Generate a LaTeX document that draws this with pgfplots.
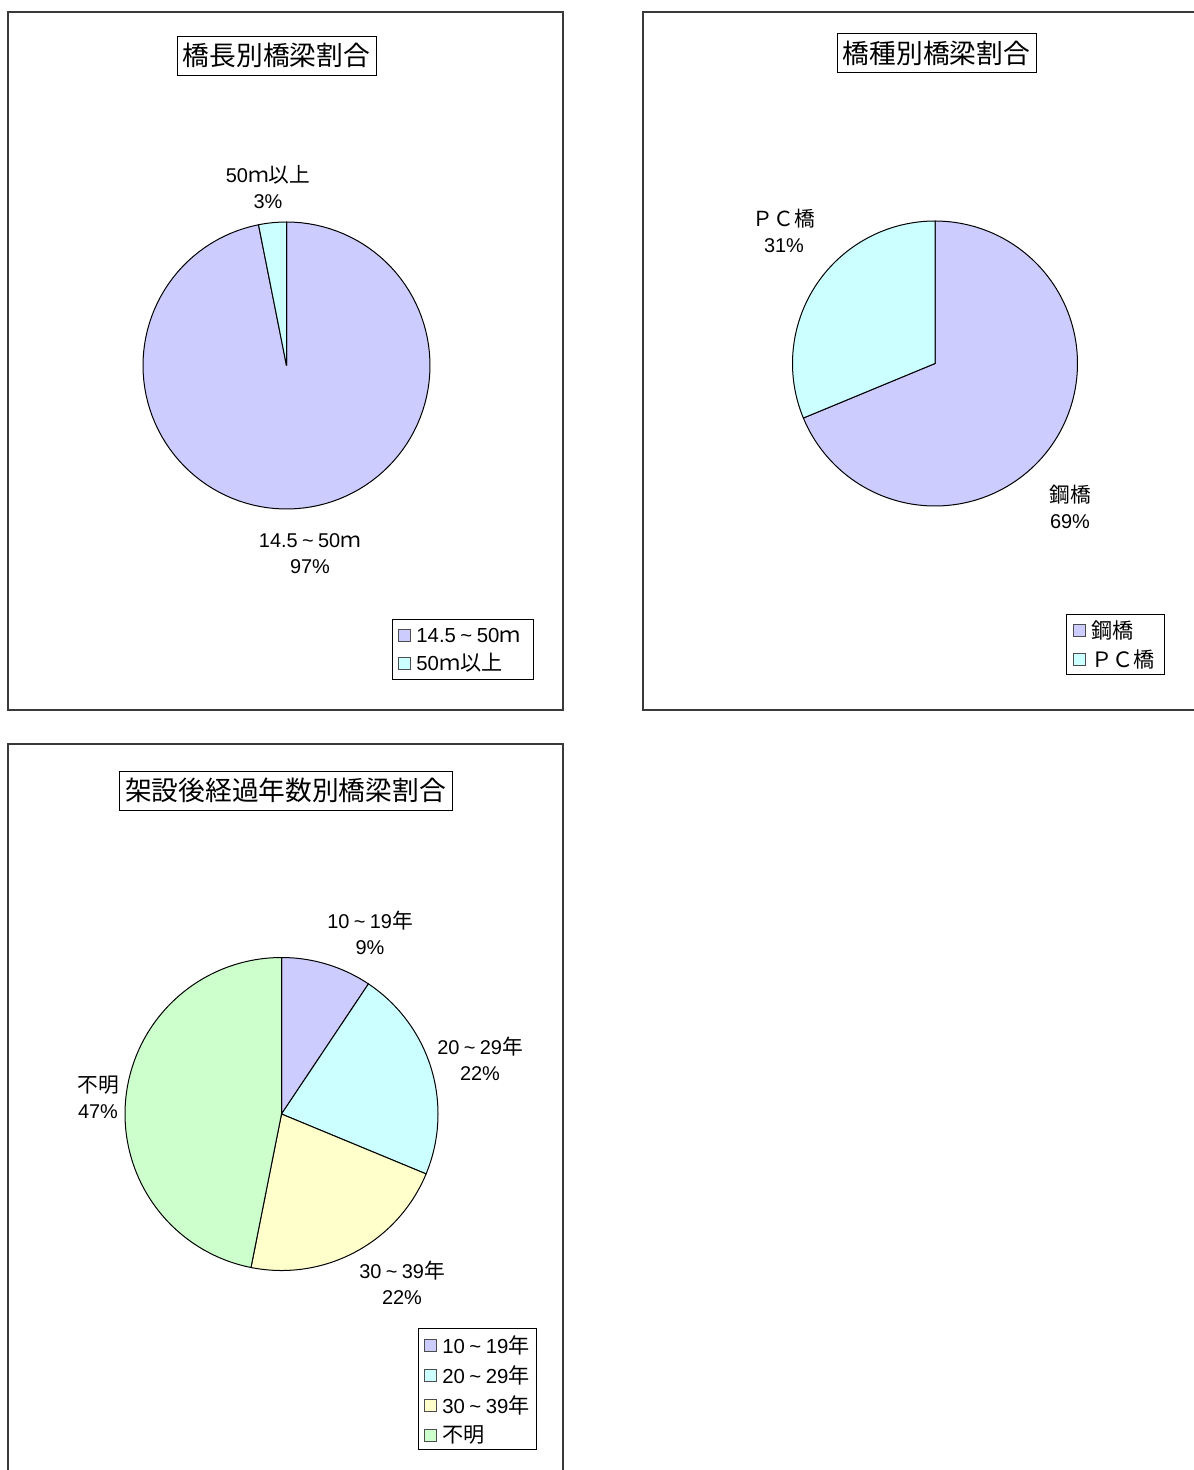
\documentclass[border=0pt]{standalone}
\usepackage{fontspec}
\setmainfont{Liberation Sans}
\newfontfamily\cjk{Noto Sans CJK JP}[Scale=1.04]
\usepackage{pgfplots}
\pgfplotsset{compat=1.18}
\definecolor{cA}{HTML}{CCCCFF}
\definecolor{cB}{HTML}{CCFFFF}
\definecolor{cC}{HTML}{FFFFCC}
\definecolor{cD}{HTML}{CCFFCC}
\definecolor{frame}{HTML}{3A3A3A}
\newcommand\J[1]{{\cjk #1}}
\newcommand\T{\hspace{0.22em}\textasciitilde\hspace{0.22em}}
% slice: cx, cy, r, cumulative count before, count, total, colour
\newcommand{\slice}[7]{%
  \pgfmathsetmacro\aS{90-360*#4/#6}%
  \pgfmathsetmacro\aE{90-360*(#4+#5)/#6}%
  \edef\tmp{\noexpand\addplot[draw=black, line width=0.5bp, fill=#7, domain=\aE:\aS, samples=120]
    ({#1+#3*cos(x)},{#2-#3*sin(x)}) -- (axis cs:#1,#2) -- cycle;}%
  \tmp}
\newcommand{\legsq}[3]{% x, ycenter, colour
  \draw[draw=black!70, line width=0.5bp, fill=#3] (axis cs:#1,#2-6) rectangle (axis cs:#1+12,#2+6);}
\begin{document}
\begin{tikzpicture}
\begin{axis}[name=ax, scale only axis, width=597bp, height=735bp,
  xmin=0, xmax=1194, ymin=0, ymax=1470, y dir=reverse, hide axis, clip=false]
% ---------- panel frames ----------
\draw[frame, line width=1bp] (axis cs:7.5,12) rectangle (axis cs:563,710);
\draw[frame, line width=1bp] (axis cs:1194,12) -- (axis cs:643,12) -- (axis cs:643,710) -- (axis cs:1194,710);
\draw[frame, line width=1bp] (axis cs:563,1470) -- (axis cs:563,744) -- (axis cs:7.5,744) -- (axis cs:7.5,1470);
% ---------- pie 1: 14.5～50m 31, 50m以上 1 ----------
\slice{286.5}{365.5}{143.5}{0}{31}{32}{cA}
\slice{286.5}{365.5}{143.5}{31}{1}{32}{cB}
% ---------- pie 2: 鋼橋 22, ＰＣ橋 10 ----------
\slice{935}{363.5}{142.5}{0}{22}{32}{cA}
\slice{935}{363.5}{142.5}{22}{10}{32}{cB}
% ---------- pie 3: 3, 7, 7, 15 ----------
\slice{281.5}{1114}{156.5}{0}{3}{32}{cA}
\slice{281.5}{1114}{156.5}{3}{7}{32}{cB}
\slice{281.5}{1114}{156.5}{10}{7}{32}{cC}
\slice{281.5}{1114}{156.5}{17}{15}{32}{cD}
% ---------- titles ----------
\tikzset{ttl/.style={draw=black, line width=0.5bp, inner sep=0pt, minimum height=19.5bp, font=\fontsize{12.9}{16}\selectfont\cjk, fill=white},
  lbl/.style={align=center, inner sep=0pt, font=\fontsize{10}{13}\selectfont},
  leg/.style={anchor=west, inner sep=0pt, font=\fontsize{10.2}{13}\selectfont}}
\node[ttl, minimum width=99.5bp] at (axis cs:276.5,55.5) {橋長別橋梁割合};
\node[ttl, minimum width=99.5bp] at (axis cs:936.5,53) {橋種別橋梁割合};
\node[ttl, minimum width=166.5bp] at (axis cs:285.5,790.5) {架設後経過年数別橋梁割合};
% ---------- data labels ----------
\node[lbl] at (axis cs:268,187) {50\J{ｍ以上}\\3\%};
\node[lbl] at (axis cs:310,554) {14.5\T50\J{ｍ}\\97\%};
\node[lbl] at (axis cs:784,231) {\J{ＰＣ橋}\\31\%};
\node[lbl] at (axis cs:1070,507) {\J{鋼橋}\\69\%};
\node[lbl] at (axis cs:370,933) {10\T19\J{年}\\9\%};
\node[lbl] at (axis cs:480,1059) {20\T29\J{年}\\22\%};
\node[lbl] at (axis cs:402,1283) {30\T39\J{年}\\22\%};
\node[lbl] at (axis cs:98,1097) {\J{不明}\\47\%};
% ---------- legends ----------
\draw[black, line width=0.5bp, fill=white] (axis cs:392,619) rectangle (axis cs:533,679);
\legsq{398}{635}{cA}\node[leg] at (axis cs:416,635) {14.5\T50\J{ｍ}};
\legsq{398}{663}{cB}\node[leg] at (axis cs:416,663) {50\J{ｍ以上}};
\draw[black, line width=0.5bp, fill=white] (axis cs:1066,614) rectangle (axis cs:1164,674);
\legsq{1073}{630}{cA}\node[leg] at (axis cs:1091,630) {\J{鋼橋}};
\legsq{1073}{659}{cB}\node[leg] at (axis cs:1091,659) {\J{ＰＣ橋}};
\draw[black, line width=0.5bp, fill=white] (axis cs:418,1328) rectangle (axis cs:536,1449);
\legsq{424}{1345}{cA}\node[leg] at (axis cs:442,1345) {10\T19\J{年}};
\legsq{424}{1375}{cB}\node[leg] at (axis cs:442,1375) {20\T29\J{年}};
\legsq{424}{1405}{cC}\node[leg] at (axis cs:442,1405) {30\T39\J{年}};
\legsq{424}{1435}{cD}\node[leg] at (axis cs:442,1435) {\J{不明}};
\end{axis}
\pgfresetboundingbox
\useasboundingbox (ax.south west) rectangle (ax.north east);
\end{tikzpicture}
\end{document}
